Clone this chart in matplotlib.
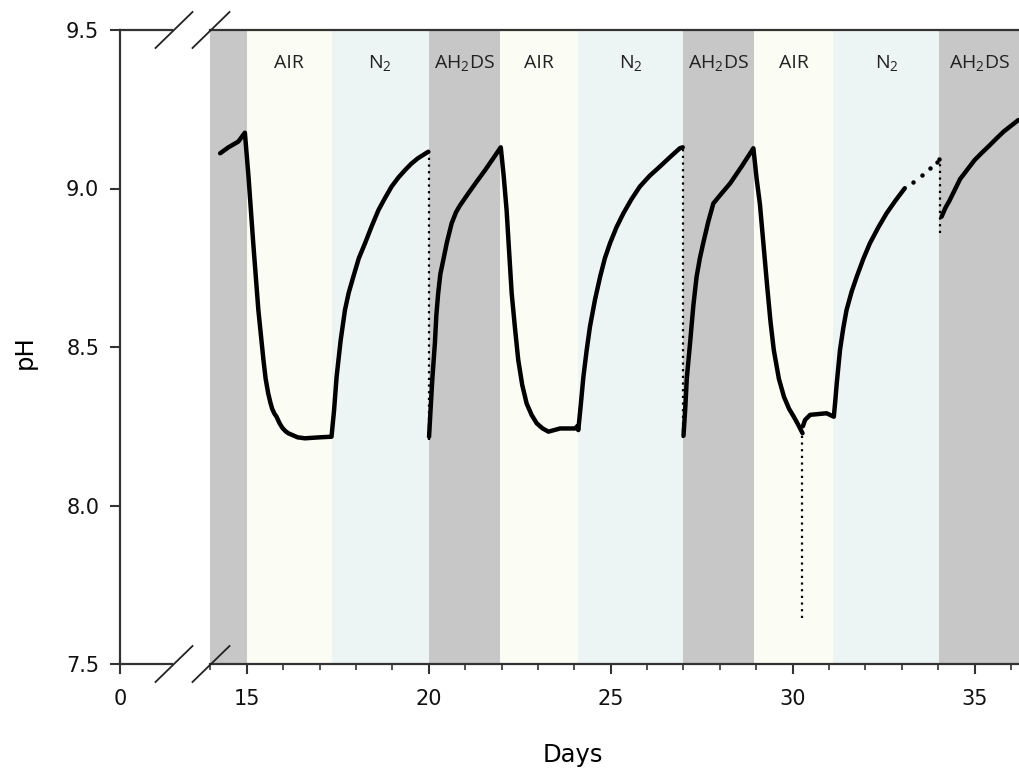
import matplotlib.pyplot as plt
from matplotlib.lines import Line2D
from matplotlib.ticker import MultipleLocator

plt.rcParams['font.family'] = ['DejaVu Sans']
plt.rcParams['mathtext.default'] = 'regular'

#### bandas de tratamento (dias)
band_edges = [14.0, 15.0, 17.33, 20.0, 21.96, 24.11, 27.0, 28.93, 31.12, 34.03, 36.3]
band_kinds = ['ah2ds', 'air', 'n2', 'ah2ds', 'air', 'n2', 'ah2ds', 'air', 'n2', 'ah2ds']
band_labels = ['', 'AIR', r'$\mathregular{N_2}$', r'$\mathregular{AH_2DS}$',
               'AIR', r'$\mathregular{N_2}$', r'$\mathregular{AH_2DS}$',
               'AIR', r'$\mathregular{N_2}$', r'$\mathregular{AH_2DS}$']
band_colors = {'ah2ds': '#c6c7c6', 'air': '#fbfcf3', 'n2': '#edf5f4'}

#### curva de pH (trechos continuos)
days_a = [14.27, 14.50, 14.77, 14.95, 15.05, 15.18, 15.32, 15.46, 15.52, 15.59, 15.65,
          15.70, 15.76, 15.82, 15.90, 15.98, 16.06, 16.14, 16.40, 16.60, 17.00, 17.33,
          17.40, 17.47, 17.58, 17.70, 17.80, 17.93, 18.08, 18.25, 18.43, 18.62, 18.80,
          18.98, 19.17, 19.35, 19.52, 19.70, 19.85, 19.99]
ph_a = [9.111, 9.130, 9.148, 9.176, 9.037, 8.827, 8.617, 8.459, 8.400, 8.354, 8.325,
        8.305, 8.290, 8.280, 8.260, 8.245, 8.235, 8.228, 8.215, 8.212, 8.215, 8.217,
        8.300, 8.406, 8.520, 8.617, 8.670, 8.722, 8.780, 8.827, 8.880, 8.932, 8.970,
        9.006, 9.035, 9.058, 9.078, 9.095, 9.106, 9.116]

days_b = [20.01, 20.06, 20.10, 20.17, 20.21, 20.26, 20.32, 20.40, 20.50, 20.63, 20.75,
          20.85, 20.97, 21.09, 21.32, 21.55, 21.76, 21.98,
          22.06, 22.14, 22.21, 22.28, 22.37, 22.46, 22.57, 22.69, 22.83, 22.97, 23.13,
          23.29, 23.45, 23.61, 24.02, 24.08, 24.11,
          24.18, 24.25, 24.34, 24.43, 24.57, 24.71, 24.84, 24.98, 25.16, 25.35, 25.57,
          25.80, 26.07, 26.35, 26.62, 26.90, 26.98]
ph_b = [8.217, 8.320, 8.400, 8.512, 8.600, 8.669, 8.730, 8.774, 8.830, 8.890, 8.925,
        8.945, 8.965, 8.985, 9.022, 9.058, 9.093, 9.130,
        9.040, 8.932, 8.800, 8.669, 8.560, 8.459, 8.380, 8.322, 8.285, 8.259, 8.243,
        8.233, 8.238, 8.243, 8.243, 8.250, 8.238,
        8.320, 8.406, 8.490, 8.564, 8.650, 8.722, 8.780, 8.827, 8.878, 8.922, 8.966,
        9.006, 9.040, 9.069, 9.098, 9.127, 9.130]

days_c = [27.00, 27.05, 27.09, 27.18, 27.27, 27.36, 27.45, 27.54, 27.68, 27.82, 28.05,
          28.28, 28.60, 28.92, 29.01, 29.10, 29.20, 29.30, 29.39, 29.48, 29.62, 29.76,
          29.90, 30.03, 30.15, 30.27]
ph_c = [8.220, 8.310, 8.400, 8.512, 8.630, 8.722, 8.780, 8.827, 8.895, 8.953, 8.985,
        9.016, 9.070, 9.127, 9.030, 8.950, 8.820, 8.690, 8.580, 8.491, 8.400, 8.343,
        8.305, 8.280, 8.255, 8.228]

days_d = [30.28, 30.34, 30.48, 30.93, 31.13, 31.17, 31.21, 31.30, 31.39, 31.48, 31.62,
          31.76, 31.94, 32.12, 32.35, 32.58, 32.83, 33.08]
ph_d = [8.250, 8.270, 8.286, 8.291, 8.280, 8.330, 8.385, 8.491, 8.560, 8.617, 8.675,
        8.722, 8.778, 8.827, 8.877, 8.922, 8.963, 9.001]

days_e = [34.09, 34.20, 34.30, 34.45, 34.60, 34.80, 35.00, 35.20, 35.40, 35.60, 35.80,
          36.00, 36.20]
ph_e = [8.911, 8.940, 8.960, 8.995, 9.030, 9.060, 9.090, 9.113, 9.135, 9.158, 9.180,
        9.198, 9.216]

# pontos soltos e quedas pontilhadas
gap_days = [33.31, 33.54, 33.77, 33.96, 34.02]
gap_ph = [9.021, 9.043, 9.064, 9.085, 9.092]
drop_days = [20.0, 27.0, 30.25, 34.05]
drop_top = [9.116, 9.13, 8.228, 9.09]
drop_bottom = [8.207, 8.212, 7.644, 8.859]

yticks = [7.5, 8.0, 8.5, 9.0, 9.5]
xticks_main = [15, 20, 25, 30, 35]

##### figura
W, H = 1020, 774
fig = plt.figure(figsize=(W / 100, H / 100), dpi=100)
ax = fig.add_axes([210.3 / W, 1 - 664 / H, (W - 210.3) / W, 634 / H])
axl = fig.add_axes([120 / W, 1 - 664 / H, 52 / W, 634 / H])

spine_c = '#333333'
for a in (ax, axl):
    a.set_ylim(7.5, 9.5)
    a.spines['right'].set_visible(False)
    for s in ('top', 'bottom', 'left'):
        a.spines[s].set_color(spine_c)
        a.spines[s].set_linewidth(1.6)
    a.tick_params(which='major', direction='out', length=7, width=1.5, color=spine_c,
                  labelsize=15, labelcolor='#111111', pad=11)
    a.tick_params(which='minor', direction='out', length=4, width=1.2, color=spine_c)
ax.spines['left'].set_visible(False)

# eixo da esquerda (so o zero)
axl.set_xlim(0, 52 / 36.4)
axl.set_xticks([0])
axl.set_yticks(yticks)
axl.set_yticklabels([f'{v:.1f}' for v in yticks])
axl.tick_params(axis='y', pad=8)
axl.patch.set_alpha(0)

# eixo principal
ax.set_xlim(14, 14 + (W - 210.3) / 36.4)
ax.set_xticks(xticks_main)
ax.xaxis.set_minor_locator(MultipleLocator(1))
ax.tick_params(axis='y', left=False, labelleft=False)

for i, kind in enumerate(band_kinds):
    x0, x1 = band_edges[i], band_edges[i + 1]
    ax.axvspan(x0, x1, color=band_colors[kind], lw=0, zorder=0)
    if band_labels[i]:
        ax.text((x0 + min(x1, ax.get_xlim()[1])) / 2, 9.395, band_labels[i], ha='center', va='center',
                fontsize=14, family='Open Sans', color='#222222')

for d, p in [(days_a, ph_a), (days_b, ph_b), (days_c, ph_c), (days_d, ph_d), (days_e, ph_e)]:
    ax.plot(d, p, color='black', lw=3.2, solid_joinstyle='round', solid_capstyle='round', zorder=3)

ax.vlines(drop_days, drop_bottom, drop_top, colors='black', linestyles=(0, (1, 2)), lw=1.6, zorder=3)
ax.plot(gap_days, gap_ph, 'o', color='black', ms=2.2, zorder=3)

# marcas de quebra do eixo
for cx in (174, 211):
    for cy in (30, 664):
        fig.add_artist(Line2D([(cx - 18.5) / W, (cx + 18.5) / W],
                              [1 - (cy + 18) / H, 1 - (cy - 18) / H],
                              color='#222222', lw=1.3, transform=fig.transFigure))

fig.text(573 / W, 1 - 755 / H, 'Days', ha='center', va='center', fontsize=17.5)
fig.text(25 / W, 1 - 352 / H, 'pH', ha='center', va='center', fontsize=17.5, rotation=90)

fig.savefig('out.png', dpi=100)
